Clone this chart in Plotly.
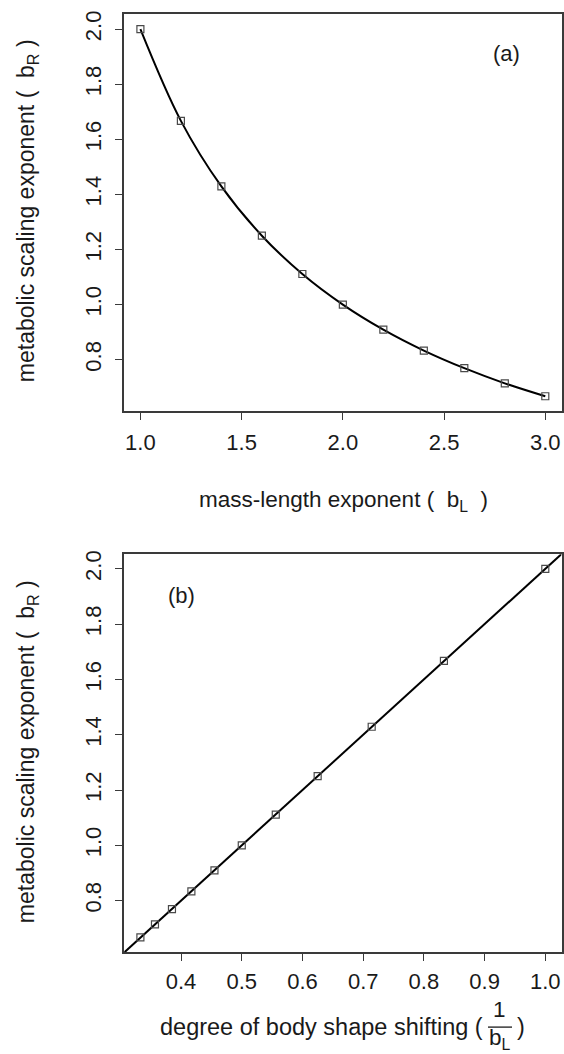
import numpy as np
import plotly.graph_objects as go

# ---- data ----
b_L = [1.0, 1.2, 1.4, 1.6, 1.8, 2.0, 2.2, 2.4, 2.6, 2.8, 3.0]
b_R = [2.0, 1.667, 1.429, 1.25, 1.111, 1.0, 0.909, 0.833, 0.769, 0.714, 0.667]
inv_b_L = [1.0, 0.833, 0.714, 0.625, 0.556, 0.5, 0.455, 0.417, 0.385, 0.357, 0.333]
b_R_b = [2.0, 1.667, 1.429, 1.25, 1.111, 1.0, 0.909, 0.833, 0.769, 0.714, 0.667]

xticks_a = [1.0, 1.5, 2.0, 2.5, 3.0]
xticks_b = [0.4, 0.5, 0.6, 0.7, 0.8, 0.9, 1.0]
yticks = [0.8, 1.0, 1.2, 1.4, 1.6, 1.8, 2.0]

W, H = 564, 1054
FONT = "Liberation Sans, Arial, sans-serif"
TXT = "#1a1a1a"
AX = "#3a3a3a"


def rng(v):
    lo, hi = min(v), max(v)
    pad = 0.04 * (hi - lo)
    return [lo - pad, hi + pad]


def px2x(p):
    return p / W


def py2y(p):
    return 1 - p / H


fig = go.Figure()

# panel (a)
fig.add_trace(go.Scatter(x=b_L, y=b_R, mode="lines", line=dict(color="black", width=2, shape="spline", smoothing=1.0),
                         xaxis="x", yaxis="y", showlegend=False, hoverinfo="skip"))
fig.add_trace(go.Scatter(x=b_L, y=b_R, mode="markers",
                         marker=dict(symbol="square-open", size=7, color="#4a4a4a", line=dict(width=1.2)),
                         xaxis="x", yaxis="y", showlegend=False))

# panel (b): fitted straight line spanning the whole panel
slope, icpt = np.polyfit(inv_b_L, b_R_b, 1)
xr_b = rng(inv_b_L)
span = xr_b[1] - xr_b[0]
lx = np.array([xr_b[0] - span, xr_b[1] + span])
fig.add_trace(go.Scatter(x=lx, y=slope * lx + icpt, mode="lines", line=dict(color="black", width=2),
                         xaxis="x2", yaxis="y2", showlegend=False, hoverinfo="skip"))
fig.add_trace(go.Scatter(x=inv_b_L, y=b_R_b, mode="markers",
                         marker=dict(symbol="square-open", size=7, color="#4a4a4a", line=dict(width=1.2)),
                         xaxis="x2", yaxis="y2", showlegend=False))

xdom = [px2x(124.2), px2x(561.5)]
ydom_a = [py2y(408.5), py2y(10.5)]
ydom_b = [py2y(951.7), py2y(552.3)]

axcommon = dict(showline=True, mirror=True, linecolor=AX, linewidth=1.5, ticks="outside", ticklen=7,
                tickcolor=AX, tickwidth=1.3, showgrid=False, zeroline=False,
                tickfont=dict(family=FONT, size=22, color=TXT))

fig.update_layout(
    width=W, height=H, margin=dict(l=0, r=0, t=0, b=0),
    paper_bgcolor="white", plot_bgcolor="white",
    xaxis=dict(domain=xdom, range=rng(b_L), tickvals=xticks_a, ticktext=[f"{v:.1f}" for v in xticks_a],
               anchor="y", ticklabelstandoff=4, **axcommon),
    yaxis=dict(domain=ydom_a, range=rng(b_R), tickvals=yticks, ticktext=[f"{v:.1f}" for v in yticks],
               anchor="x", tickangle=-90, ticklabelstandoff=6, **axcommon),
    xaxis2=dict(domain=xdom, range=xr_b, tickvals=xticks_b, ticktext=[f"{v:.1f}" for v in xticks_b],
                anchor="y2", ticklabelstandoff=2, **axcommon),
    yaxis2=dict(domain=ydom_b, range=rng(b_R_b), tickvals=yticks, ticktext=[f"{v:.1f}" for v in yticks],
                anchor="x2", tickangle=-90, ticklabelstandoff=6, **axcommon),
)

ann = []
tf = dict(family=FONT, size=22.5, color=TXT)
tf_y = dict(family=FONT, size=23, color=TXT)
tf_b = dict(family=FONT, size=23.5, color=TXT)
ytitle = "metabolic scaling exponent (  b<sub>R</sub> )"
# y titles
ann.append(dict(text=ytitle, x=px2x(27), y=py2y(208), xref="paper", yref="paper",
                textangle=-90, showarrow=False, font=tf_y, xanchor="center", yanchor="middle"))
ann.append(dict(text=ytitle, x=px2x(27), y=py2y(751), xref="paper", yref="paper",
                textangle=-90, showarrow=False, font=tf_y, xanchor="center", yanchor="middle"))
# x title (a)
ann.append(dict(text="mass-length exponent (  b<sub>L</sub>  )", x=px2x(343), y=py2y(499), xref="paper", yref="paper",
                showarrow=False, font=tf, xanchor="center", yanchor="middle"))
# x title (b) with fraction
ann.append(dict(text="degree of body shape shifting (", x=px2x(484), y=py2y(1027), xref="paper", yref="paper",
                showarrow=False, font=tf_b, xanchor="right", yanchor="middle", borderpad=0))
ann.append(dict(text="1", x=px2x(500), y=py2y(1009), xref="paper", yref="paper",
                showarrow=False, font=tf, xanchor="center", yanchor="middle"))
ann.append(dict(text="b<sub>L</sub>", x=px2x(500), y=py2y(1054), xref="paper", yref="paper",
                showarrow=False, font=tf, xanchor="center", yanchor="bottom", borderpad=0))
ann.append(dict(text=")", x=px2x(515), y=py2y(1027), xref="paper", yref="paper",
                showarrow=False, font=tf_b, xanchor="left", yanchor="middle"))
# panel labels
ann.append(dict(text="(a)", x=px2x(506), y=py2y(50), xref="paper", yref="paper",
                showarrow=False, font=dict(family=FONT, size=22, color=TXT), xanchor="center", yanchor="middle"))
ann.append(dict(text="(b)", x=px2x(181), y=py2y(594), xref="paper", yref="paper",
                showarrow=False, font=dict(family=FONT, size=22, color=TXT), xanchor="center", yanchor="middle"))
fig.update_layout(annotations=ann)

fig.add_shape(type="line", xref="paper", yref="paper", x0=px2x(488), x1=px2x(512), y0=py2y(1027), y1=py2y(1027),
              line=dict(color=TXT, width=1.3))

fig.write_html("out.html")
